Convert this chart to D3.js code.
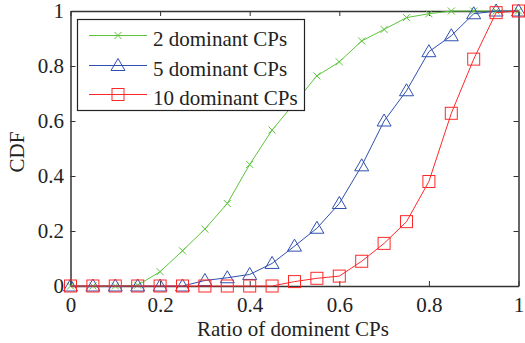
<!DOCTYPE html>
<html><head><meta charset="utf-8">
<script src="https://cdn.jsdelivr.net/npm/d3@7"></script>
<style>body{margin:0;background:#fff}svg{display:block}text{font-family:"Liberation Serif","Times New Roman",serif;fill:#222}</style>
</head><body>
<script>
const xValues = [0,0.05,0.1,0.15,0.2,0.25,0.3,0.35,0.4,0.45,0.5,0.55,0.6,0.65,0.7,0.75,0.8,0.85,0.9,0.95,1];
const cp2  = [0,0,0,0.003,0.052,0.128,0.207,0.30,0.442,0.567,0.665,0.764,0.815,0.891,0.933,0.976,0.99,1,1,1,1];
const cp5  = [0,0,0,0,0,0,0.02,0.03,0.042,0.082,0.145,0.21,0.30,0.437,0.60,0.71,0.852,0.91,0.99,1,1];
const cp10 = [0,0,0,0,0,0,0,0,0,0,0.016,0.028,0.036,0.09,0.155,0.234,0.38,0.628,0.825,0.994,1];
const seriesNames = ["2 dominant CPs","5 dominant CPs","10 dominant CPs"];
const xTicks = [0,0.2,0.4,0.6,0.8,1];
const yTicks = [0,0.2,0.4,0.6,0.8,1];

const W=525,H=343, L=70.5, R=518.5, T=11, B=286;
const FS="21px";
const svg=d3.select("body").append("svg").attr("width",W).attr("height",H);
const x=d3.scaleLinear().domain([0,1]).range([L,R]);
const y=d3.scaleLinear().domain([0,1]).range([B,T]);
const axCol="#333";
const fmt=d=>d===0?"0":d===1?"1":String(d);

// axes
const gB=svg.append("g").attr("transform",`translate(0,${B})`).call(d3.axisBottom(x).tickValues(xTicks).tickFormat(fmt).tickSizeInner(-5).tickSizeOuter(0).tickPadding(11));
const gT=svg.append("g").attr("transform",`translate(0,${T})`).call(d3.axisTop(x).tickValues(xTicks).tickFormat("").tickSizeInner(-5).tickSizeOuter(0));
const gLft=svg.append("g").attr("transform",`translate(${L},0)`).call(d3.axisLeft(y).tickValues(yTicks).tickFormat(fmt).tickSizeInner(-5).tickSizeOuter(0).tickPadding(6.5));
const gR=svg.append("g").attr("transform",`translate(${R},0)`).call(d3.axisRight(y).tickValues(yTicks).tickFormat("").tickSizeInner(-5).tickSizeOuter(0));
[gB,gT,gLft,gR].forEach(g=>{g.selectAll("path").attr("stroke",axCol).attr("stroke-width",1.5);g.selectAll("line").attr("stroke",axCol);g.selectAll("text").style("font-size",FS).attr("fill","#222");});

// labels
svg.append("text").attr("x",293).attr("y",336).attr("text-anchor","middle").style("font-size",FS).text("Ratio of dominent CPs");
svg.append("text").attr("transform",`translate(24,152) rotate(-90)`).attr("text-anchor","middle").style("font-size",FS).text("CDF");

const series=[
 {vals:cp2,color:"#5cc43c",marker:"x"},
 {vals:cp5,color:"#3050b0",marker:"tri"},
 {vals:cp10,color:"#ff2828",marker:"sq"}];

function drawMarker(g,type,color,cx,cy){
  if(type==="x"){
    g.append("path").attr("d",`M${cx-3.5},${cy-3.5}L${cx+3.5},${cy+3.5}M${cx-3.5},${cy+3.5}L${cx+3.5},${cy-3.5}`).attr("stroke",color).attr("stroke-width",1).attr("fill","none");
  } else if(type==="tri"){
    g.append("path").attr("d",`M${cx},${cy-7}L${cx+7},${cy+5}L${cx-7},${cy+5}Z`).attr("stroke",color).attr("stroke-width",1).attr("fill","none");
  } else {
    g.append("rect").attr("x",cx-6).attr("y",cy-6).attr("width",12).attr("height",12).attr("stroke",color).attr("stroke-width",1).attr("fill","none");
  }
}
const line=d3.line().x((d,i)=>x(xValues[i])).y(d=>y(d));
series.forEach(s=>{
  const g=svg.append("g");
  g.append("path").attr("d",line(s.vals)).attr("fill","none").attr("stroke",s.color).attr("stroke-width",1);
  s.vals.forEach((v,i)=>drawMarker(g,s.marker,s.color,x(xValues[i]),y(v)));
});

// legend
const lg=svg.append("g");
lg.append("rect").attr("x",77.5).attr("y",19.5).attr("width",227).attr("height",91).attr("fill","#fff").attr("stroke","#222").attr("stroke-width",1.2);
const rowsY=[35.5,65.5,94.5];
series.forEach((s,i)=>{
  lg.append("line").attr("x1",89).attr("x2",147).attr("y1",rowsY[i]).attr("y2",rowsY[i]).attr("stroke",s.color).attr("stroke-width",1);
  drawMarker(lg,s.marker,s.color,118,rowsY[i]);
  lg.append("text").attr("x",153).attr("y",rowsY[i]+10).style("font-size",FS).text(seriesNames[i]);
});
</script>
</body></html>
